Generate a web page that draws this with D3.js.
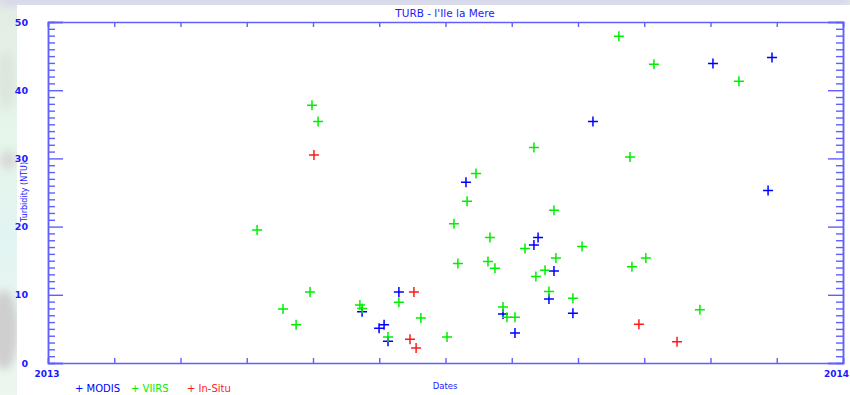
<!DOCTYPE html>
<html>
<head>
<meta charset="utf-8">
<script src="https://cdn.jsdelivr.net/npm/d3@7"></script>
<style>
  html, body { margin: 0; padding: 0; background: #fff; overflow: hidden; }
  svg { display: block; }
  text { font-family: "DejaVu Sans", sans-serif; }
</style>
</head>
<body>
<script>
// Turbidity observations at l'Ile la Mere during 2013.
// x = day of year (0 = 1 Jan 2013, 365 = 1 Jan 2014), y = turbidity in NTU.
const modisDays = [144.2, 152.0, 154.3, 156.1, 161.1, 191.9, 208.9, 214.4, 223.1, 225.0,
                   230.0, 232.3, 241.0, 250.2, 305.3, 330.6, 332.4];
const modisNTU  = [7.5, 5.1, 5.6, 3.2, 10.4, 26.5, 7.2, 4.4, 17.3, 18.4,
                   9.4, 13.5, 7.3, 35.4, 43.9, 25.3, 44.8];

const viirsDays = [96.0, 107.9, 113.9, 120.3, 121.2, 124.0, 143.2, 144.2, 156.1, 161.1,
                   171.2, 183.2, 186.4, 188.2, 192.4, 196.5, 202.0, 202.9, 205.2, 208.9,
                   210.7, 214.4, 219.0, 223.1, 224.0, 228.2, 230.0, 232.3, 233.2, 241.0,
                   245.2, 262.1, 267.2, 268.1, 274.5, 278.2, 299.3, 317.2];
const viirsNTU  = [19.5, 7.9, 5.6, 10.4, 37.8, 35.4, 8.5, 8.0, 3.8, 8.9,
                   6.6, 3.8, 20.4, 14.6, 23.7, 27.8, 14.9, 18.4, 13.9, 8.2,
                   6.7, 6.7, 16.8, 31.6, 12.7, 13.6, 10.5, 22.4, 15.4, 9.5,
                   17.1, 47.9, 30.2, 14.1, 15.4, 43.8, 7.8, 41.3];

const insituDays = [122.1, 166.2, 168.0, 169.0, 271.3, 288.8];
const insituNTU  = [30.5, 3.5, 10.4, 2.2, 5.7, 3.1];

const yearLabels = ["2013", "2014"];
const legendNames = ["MODIS", "VIIRS", "In-Situ"];
const seriesColors = ["#0000ff", "#00ee00", "#ff1a1a"];

(function draw() {
  const W = 850, H = 395;
  const plot = { left: 48, right: 843, top: 22, bottom: 363 };
  const axisColor = "#5f5fff";
  const textColor = "#1a1aff";

  const svg = d3.select("body").append("svg").attr("width", W).attr("height", H);

  // soft backdrop around the white panel
  const defs = svg.append("defs");
  defs.append("filter").attr("id", "soft").attr("x", "-50%").attr("y", "-50%")
    .attr("width", "200%").attr("height", "200%")
    .append("feGaussianBlur").attr("stdDeviation", 4);
  const lg = defs.append("linearGradient").attr("id", "leftGrad")
    .attr("x1", 0).attr("y1", 0).attr("x2", 0).attr("y2", 1);
  lg.append("stop").attr("offset", "0").attr("stop-color", "#e4ece4");
  lg.append("stop").attr("offset", "0.35").attr("stop-color", "#e6f6ea");
  lg.append("stop").attr("offset", "0.6").attr("stop-color", "#e2f4f2");
  lg.append("stop").attr("offset", "1").attr("stop-color", "#eef6ee");
  svg.append("rect").attr("x", 0).attr("y", 0).attr("width", W).attr("height", H).attr("fill", "url(#leftGrad)");
  const back = svg.append("g").attr("filter", "url(#soft)");
  back.append("rect").attr("x", 0).attr("y", -6).attr("width", W).attr("height", 12).attr("fill", "#d6d6ec");
  back.append("ellipse").attr("cx", 4).attr("cy", 330).attr("rx", 14).attr("ry", 40).attr("fill", "#cfcfcf");
  back.append("ellipse").attr("cx", 8).attr("cy", 160).attr("rx", 8).attr("ry", 10).attr("fill", "#d8d8d8");
  back.append("ellipse").attr("cx", 6).attr("cy", 80).attr("rx", 10).attr("ry", 30).attr("fill", "#dde6dd");

  // white chart panel
  svg.append("rect").attr("x", 17).attr("y", 5).attr("width", W - 17).attr("height", H - 5).attr("fill", "#ffffff");

  const x = d3.scaleLinear().domain([0, 365]).range([plot.left, plot.right]);
  const y = d3.scaleLinear().domain([0, 50]).range([plot.bottom, plot.top]);

  // monthly ticks, equally spaced across the year
  const monthTicks = d3.range(0, 13).map(i => i * 365 / 12);
  const noLabel = () => "";

  const axes = svg.append("g");
  axes.append("g").attr("transform", `translate(0,${plot.bottom})`)
    .call(d3.axisBottom(x).tickValues(monthTicks).tickSize(-5).tickFormat(noLabel));
  axes.append("g").attr("transform", `translate(0,${plot.top})`)
    .call(d3.axisTop(x).tickValues(monthTicks).tickSize(-5).tickFormat(noLabel));

  // left / right axes: major every 10, minor every 1
  const majorY = d3.range(0, 51, 10);
  const minorY = d3.range(0, 51, 1).filter(v => v % 10 !== 0);
  const leftAxis = axes.append("g").attr("transform", `translate(${plot.left},0)`);
  leftAxis.append("g").call(d3.axisLeft(y).tickValues(minorY).tickSize(-7).tickFormat(noLabel));
  leftAxis.append("g").call(d3.axisLeft(y).tickValues(majorY).tickSize(-15).tickPadding(20).tickFormat(d3.format("d")));
  const rightAxis = axes.append("g").attr("transform", `translate(${plot.right},0)`);
  rightAxis.append("g").call(d3.axisRight(y).tickValues(minorY).tickSize(-7).tickFormat(noLabel));
  rightAxis.append("g").call(d3.axisRight(y).tickValues(majorY).tickSize(-15).tickFormat(noLabel));

  axes.selectAll(".domain").attr("stroke", axisColor).attr("stroke-width", 1.5);
  axes.selectAll(".tick line").attr("stroke", axisColor).attr("stroke-width", 1.4);
  leftAxis.selectAll(".tick text").attr("fill", textColor).attr("font-size", 9.5).attr("font-weight", "bold")
    .attr("font-family", "DejaVu Sans, sans-serif");

  // year labels under the axis ends
  svg.append("g").selectAll("text").data(yearLabels).join("text")
    .attr("x", (d, i) => i === 0 ? x(0) - 1 : W - 1)
    .attr("y", 377)
    .attr("text-anchor", (d, i) => i === 0 ? "middle" : "end")
    .attr("fill", textColor).attr("font-size", 9).attr("font-weight", "bold")
    .text(d => d);

  // titles
  svg.append("text").attr("x", 445).attr("y", 17).attr("text-anchor", "middle")
    .attr("fill", textColor).attr("font-size", 10.5).text("TURB - l'Ile la Mere");
  svg.append("text").attr("transform", "translate(27,192) rotate(-90)").attr("text-anchor", "middle")
    .attr("fill", textColor).attr("font-size", 8).text("Turbidity (NTU)");
  svg.append("text").attr("x", 445).attr("y", 389).attr("text-anchor", "middle")
    .attr("fill", textColor).attr("font-size", 8.5).text("Dates");

  // plus markers
  const series = [
    { days: modisDays, ntu: modisNTU },
    { days: viirsDays, ntu: viirsNTU },
    { days: insituDays, ntu: insituNTU }
  ];
  const arm = 5;
  const plusPath = (cx, cy) => `M${cx - arm},${cy}H${cx + arm}M${cx},${cy - arm}V${cy + arm}`;
  series.forEach((s, k) => {
    svg.append("g").selectAll("path").data(s.days.map((d, i) => [d, s.ntu[i]])).join("path")
      .attr("d", d => plusPath(x(d[0]), y(d[1])))
      .attr("stroke", seriesColors[k]).attr("stroke-width", 1.5).attr("fill", "none");
  });

  // legend
  const legendX = [75, 131, 187];
  const legend = svg.append("g").selectAll("g").data(legendNames).join("g")
    .attr("transform", (d, i) => `translate(${legendX[i]},388)`);
  legend.append("text").attr("x", 0).attr("y", 4)
    .attr("fill", (d, i) => seriesColors[i]).attr("font-size", 10)
    .text(d => "+ " + d);
})();
</script>
</body>
</html>
